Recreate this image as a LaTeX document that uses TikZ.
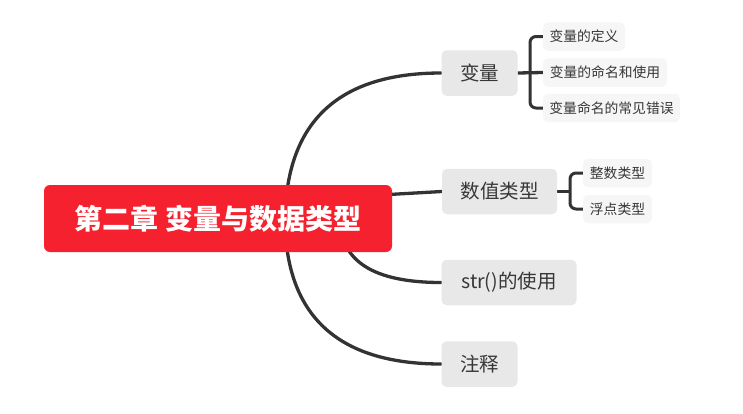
\documentclass[tikz,border=0pt]{standalone}
\usepackage{fontspec}
\setmainfont{Noto Sans CJK SC}
\newfontfamily\cjk{Noto Sans CJK SC}
\definecolor{rootred}{RGB}{246,33,46}
\definecolor{linegray}{RGB}{51,51,51}
\definecolor{branchfill}{RGB}{232,232,232}
\definecolor{subfill}{RGB}{246,246,246}
\definecolor{txtgray}{RGB}{55,55,55}
\pgfdeclarelayer{background}
\pgfsetlayers{background,main}
\tikzset{
  rootbox/.style={fill=rootred, rounded corners=6pt, inner sep=0pt, text=white,
    font=\cjk\bfseries\fontsize{28}{32}\selectfont},
  branchbox/.style={fill=branchfill, rounded corners=5pt, inner sep=0pt, text=txtgray,
    minimum height=45.5pt, font=\cjk\fontsize{19.5}{22}\selectfont},
  subbox/.style={fill=subfill, rounded corners=5pt, inner sep=0pt, text=txtgray,
    minimum height=28.5pt, font=\cjk\fontsize{13.8}{16}\selectfont},
  link/.style={draw=linegray, line width=3.3pt, line cap=round},
  brace/.style={draw=linegray, line width=3pt, rounded corners=6pt},
}
\begin{document}
\begin{tikzpicture}[x=1pt,y=-1pt]
\useasboundingbox (0,0) rectangle (743,413);
% root
\node[rootbox, minimum width=348pt, minimum height=67pt] (root) at (218,218.5) {第二章 变量与数据类型};
% branches
\node[branchbox, minimum width=76pt] (b1) at (479.5,73) {变量};
\node[branchbox, minimum width=115pt] (b2) at (499.5,191.5) {数值类型};
\node[branchbox, minimum width=135pt] (b3) at (509,282.5) {str()的使用};
\node[branchbox, minimum width=76pt] (b4) at (479.5,364) {注释};
% sub nodes
\node[subbox, minimum width=82pt] (s11) at (584,36.5) {变量的定义};
\node[subbox, minimum width=124pt] (s12) at (605,72.5) {变量的命名和使用};
\node[subbox, minimum width=137pt] (s13) at (611.5,108) {变量命名的常见错误};
\node[subbox, minimum width=69pt] (s21) at (617.5,173) {整数类型};
\node[subbox, minimum width=69pt] (s22) at (617.5,209) {浮点类型};
% origins
\coordinate (o1) at (285,223);
\coordinate (o2) at (380,195);
\coordinate (o3) at (340,218);
\coordinate (o4) at (285,218);
\coordinate (j1) at (530,73);
\coordinate (j2) at (570,191.5);
\begin{pgfonlayer}{background}
\draw[link] (o1) .. controls (285,123) and (337,73) .. (b1.west);
\draw[link] (o2) .. controls (410,193) .. (b2.west);
\draw[link] (o3) .. controls (340,261) and (373,282.5) .. (b3.west);
\draw[link] (o4) .. controls (285,315) and (337,364) .. (b4.west);
% braces
\draw[link, line cap=butt] (b1.east) -- (s12.west);
\draw[brace] (s11.west) -| (j1) |- (s13.west);
\draw[link, line cap=butt] (b2.east) -- (j2);
\draw[brace] (s21.west) -| (j2) |- (s22.west);
\end{pgfonlayer}
\end{tikzpicture}
\end{document}
